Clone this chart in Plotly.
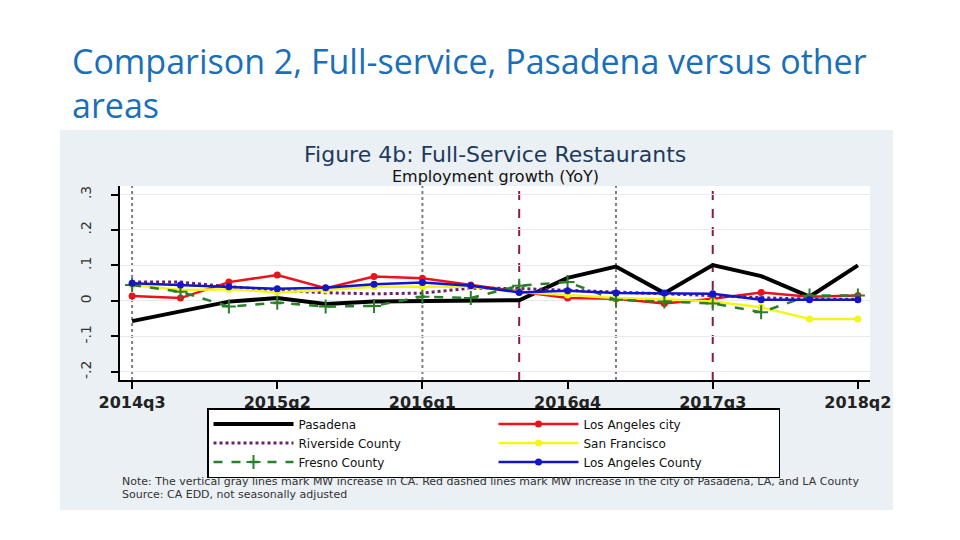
import plotly.graph_objects as go

quarters = ["2014q3", "2014q4", "2015q1", "2015q2", "2015q3", "2015q4",
            "2016q1", "2016q2", "2016q3", "2016q4", "2017q1", "2017q2",
            "2017q3", "2017q4", "2018q1", "2018q2"]

pasadena   = [-0.057, -0.030, -0.002, 0.008, -0.009, -0.002, 0.000, 0.002,
              0.002, 0.065, 0.097, 0.022, 0.101, 0.070, 0.012, 0.100]
la_city    = [0.014, 0.008, 0.053, 0.073, 0.036, 0.069, 0.064, 0.045,
              0.026, 0.008, 0.006, -0.007, 0.006, 0.024, 0.012, 0.015]
riverside  = [0.053, 0.053, 0.040, 0.030, 0.023, 0.020, 0.022, 0.036,
              0.035, 0.030, 0.027, 0.022, 0.015, 0.009, 0.005, 0.005]
san_fran   = [0.045, 0.031, 0.033, 0.024, 0.031, 0.040, 0.040, 0.040,
              0.025, 0.017, 0.008, 0.005, -0.002, -0.018, -0.051, -0.051]
fresno     = [0.045, 0.026, -0.016, -0.005, -0.016, -0.014, 0.012, 0.008,
              0.043, 0.053, 0.003, -0.002, -0.007, -0.032, 0.015, 0.015]
la_county  = [0.050, 0.045, 0.040, 0.034, 0.037, 0.047, 0.052, 0.043,
              0.024, 0.029, 0.022, 0.022, 0.020, 0.003, 0.003, 0.003]

x_tick_labels = ["2014q3", "2015q2", "2016q1", "2016q4", "2017q3", "2018q2"]
y_tick_values = [-0.2, -0.1, 0, 0.1, 0.2, 0.3]
y_tick_labels = ["-.2", "-.1", "0", ".1", ".2", ".3"]

ca_mw_quarters = ["2014q3", "2016q1", "2017q1"]      # grey dotted lines
local_mw_quarters = ["2016q3", "2017q3"]             # red dashed lines

# page offset (default body margin) and plot-area placement in screen pixels
OFF = 8
W, H = 960 - OFF, 540 - OFF
SL, SR, ST, SB = 120, 870, 186, 380
L, R, T, B = SL - OFF, SR - OFF, ST - OFF, SB - OFF


def px(xs):
    return (xs - SL) / (SR - SL)


def py(ys):
    return (SB - ys) / (SB - ST)


FONT = "DejaVu Sans"

fig = go.Figure()

series = [
    ("Pasadena", pasadena, dict(color="#000000", width=4), None),
    ("Los Angeles city", la_city, dict(color="#E8141B", width=2.5),
     dict(symbol="circle", size=7, color="#E8141B")),
    ("Riverside County", riverside, dict(color="#6B1F6E", width=3, dash="dot"), None),
    ("San Francisco", san_fran, dict(color="#F5F51E", width=2.5),
     dict(symbol="circle", size=7, color="#F5F51E")),
    ("Fresno County", fresno, dict(color="#2A7F2A", width=2.5, dash="dash"),
     dict(symbol="cross-thin", size=10, color="#2A7F2A",
          line=dict(color="#2A7F2A", width=2))),
    ("Los Angeles County", la_county, dict(color="#1414C8", width=2.5),
     dict(symbol="circle", size=7, color="#1414C8")),
]

for name, vals, line, marker in series:
    fig.add_trace(go.Scatter(
        x=quarters, y=vals, name=name,
        mode="lines+markers" if marker else "lines",
        line=line, marker=marker if marker else None,
    ))

# chart panel background and white plot area (drawn first)
fig.add_shape(type="rect", xref="paper", yref="paper",
              x0=px(60), x1=px(893), y0=py(510), y1=py(130),
              fillcolor="#EAF0F3", line=dict(width=0), layer="below")
fig.add_shape(type="rect", xref="paper", yref="paper",
              x0=0, x1=1, y0=0, y1=1,
              fillcolor="#FFFFFF", line=dict(width=0), layer="below")

# vertical reference lines
for q in ca_mw_quarters:
    fig.add_shape(type="line", xref="x", yref="paper",
                  x0=quarters.index(q), x1=quarters.index(q), y0=0, y1=1,
                  line=dict(color="#7F7F7F", width=2, dash="dot"), layer="below")
for q in local_mw_quarters:
    fig.add_shape(type="line", xref="x", yref="paper",
                  x0=quarters.index(q), x1=quarters.index(q), y0=0, y1=1,
                  line=dict(color="#8B1A4A", width=2, dash="dash"), layer="below")

# slide title
fig.add_annotation(xref="paper", yref="paper", x=px(70), y=py(36),
                   xanchor="left", yanchor="top", showarrow=False, align="left",
                   text="Comparison 2, Full-service, Pasadena versus other<br>areas",
                   font=dict(family="Open Sans", size=34, color="#1A6FB8"))

# figure titles
fig.add_annotation(xref="paper", yref="paper", x=px(495), y=py(154),
                   xanchor="center", yanchor="middle", showarrow=False,
                   text="Figure 4b: Full-Service Restaurants",
                   font=dict(family=FONT, size=22, color="#1E3A5F"))
fig.add_annotation(xref="paper", yref="paper", x=px(495), y=py(176),
                   xanchor="center", yanchor="middle", showarrow=False,
                   text="Employment growth (YoY)",
                   font=dict(family=FONT, size=16, color="#111111"))

# notes
fig.add_annotation(xref="paper", yref="paper", x=px(120), y=py(481),
                   xanchor="left", yanchor="middle", showarrow=False,
                   text="Note: The vertical gray lines mark MW increase in CA. Red dashed lines mark MW increase in the city of Pasadena, LA, and LA County",
                   font=dict(family=FONT, size=11, color="#333333"))
fig.add_annotation(xref="paper", yref="paper", x=px(120), y=py(494),
                   xanchor="left", yanchor="middle", showarrow=False,
                   text="Source: CA EDD, not seasonally adjusted",
                   font=dict(family=FONT, size=11, color="#333333"))

fig.update_layout(
    width=W, height=H,
    margin=dict(l=L, r=W - R, t=T, b=H - B, pad=0, autoexpand=False),
    paper_bgcolor="#FFFFFF",
    plot_bgcolor="rgba(0,0,0,0)",
    showlegend=True,
    legend=dict(
        orientation="h", x=px(207), xanchor="left", y=py(408), yanchor="top",
        bgcolor="#FFFFFF", bordercolor="#000000", borderwidth=1.5,
        font=dict(family=FONT, size=12, color="#111111"),
        itemwidth=80, entrywidth=190, tracegroupgap=0,
        traceorder="normal",
    ),
    xaxis=dict(
        type="category", categoryorder="array", categoryarray=quarters,
        range=[-0.25, len(quarters) - 0.75],
        tickmode="array", tickvals=x_tick_labels, ticktext=x_tick_labels,
        showgrid=False, zeroline=False,
        showline=True, linecolor="#000000", linewidth=2,
        ticks="outside", ticklen=7, tickwidth=2, tickcolor="#000000",
        tickfont=dict(family=FONT, size=16, color="#222222", weight="bold"),
    ),
    yaxis=dict(
        range=[-0.223, 0.324],
        tickmode="array", tickvals=y_tick_values, ticktext=y_tick_labels,
        tickangle=-90, ticklabelstandoff=14,
        showgrid=True, gridcolor="#E6EBEE", gridwidth=1, zeroline=False,
        showline=True, linecolor="#000000", linewidth=2,
        ticks="outside", ticklen=7, tickwidth=2, tickcolor="#000000",
        tickfont=dict(family=FONT, size=14, color="#333333"),
    ),
)

fig.write_html("out.html")
